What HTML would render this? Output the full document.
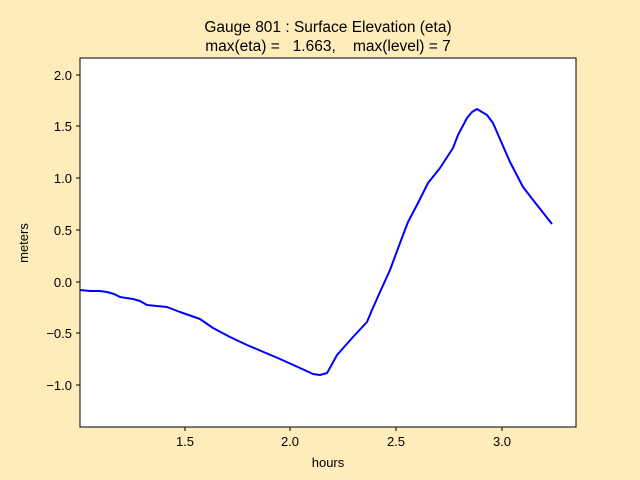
<!DOCTYPE html>
<html><head><style>html,body{margin:0;padding:0;width:640px;height:480px;overflow:hidden;background:#ffecbb}svg{display:block}</style></head><body>
<svg width="640" height="480" xmlns="http://www.w3.org/2000/svg" font-family="Liberation Sans, DejaVu Sans, sans-serif">
<rect width="640" height="480" fill="#ffecbb"/>
<rect x="80" y="58" width="496" height="369" fill="#fff"/>
<polyline fill="none" stroke="#0000ff" stroke-width="2" stroke-linejoin="round" points="80,290 90,291 100,291 107,292 114,294 120,297 133,299 140,301 147,305 157,306 167,307 180,312 200,319 213,328 230,337 247,345 280,359 300,368 313,374 320,375 327,373 331,366 337,355 353,337 367,322 372,310 380,292 390,270 400,243 408,222 418,203 428,183 440,168 453,148 458,135 467,118 472,112 477,109 487,115 493,123 510,162 523,187 537,205 552,224"/>
<rect x="80" y="58" width="496" height="369" fill="none" stroke="#000" stroke-width="1"/>
<g stroke="#000">
<line x1="185" y1="427" x2="185" y2="431"/><line x1="290" y1="427" x2="290" y2="431"/><line x1="396" y1="427" x2="396" y2="431"/><line x1="502" y1="427" x2="502" y2="431"/>
<line x1="76" y1="75" x2="80" y2="75"/><line x1="76" y1="126" x2="80" y2="126"/><line x1="76" y1="178" x2="80" y2="178"/><line x1="76" y1="230" x2="80" y2="230"/><line x1="76" y1="282" x2="80" y2="282"/><line x1="76" y1="333" x2="80" y2="333"/><line x1="76" y1="385" x2="80" y2="385"/>
</g>
<g font-size="13" fill="#000" text-anchor="middle">
<text x="185" y="446">1.5</text><text x="290" y="446">2.0</text><text x="396" y="446">2.5</text><text x="502" y="446">3.0</text>
<text x="328" y="467">hours</text>
</g>
<g font-size="13" fill="#000" text-anchor="end">
<text x="72" y="80">2.0</text><text x="72" y="131">1.5</text><text x="72" y="183">1.0</text><text x="72" y="235">0.5</text><text x="72" y="287">0.0</text><text x="72" y="338">−0.5</text><text x="72" y="390">−1.0</text>
</g>
<text x="28" y="243" font-size="13" text-anchor="middle" transform="rotate(-90 28 243)">meters</text>
<text x="328" y="32" font-size="15.5" text-anchor="middle">Gauge 801 : Surface Elevation (eta)</text>
<text x="328" y="51" font-size="15.5" text-anchor="middle" xml:space="preserve">max(eta) =   1.663,    max(level) = 7</text>
</svg>
</body></html>
